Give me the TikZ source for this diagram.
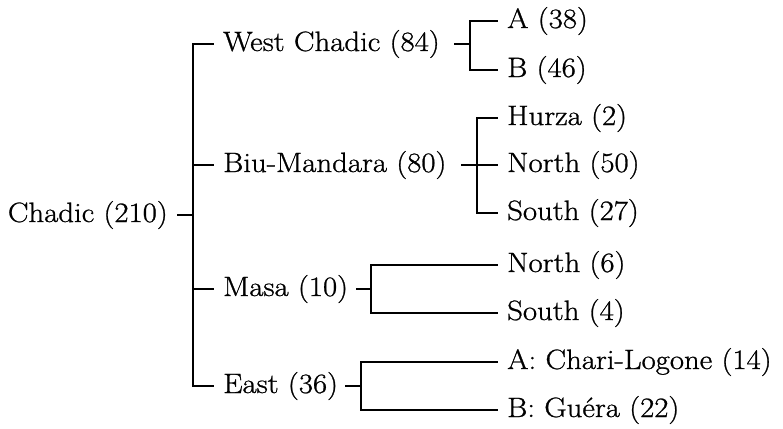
\documentclass[tikz,border=0pt]{standalone}
\usepackage{fontspec}
\setmainfont{Latin Modern Roman}[FakeStretch=1.1, FakeBold=0.9]
\begin{document}
\begin{tikzpicture}[x=1pt,y=-1pt,
  lbl/.style={inner ysep=0pt, inner xsep=10pt, text height=20pt, text depth=6pt,
    font=\fontsize{28}{32}\selectfont},
  ln/.style={line width=2pt, line cap=rect}]
\useasboundingbox (0,0) rectangle (783,428);
% root
\node[lbl, anchor=east] (root) at (178,215) {Chadic (210)};
\coordinate (rv) at (193,215);
% level 1
\node[lbl, anchor=west] (wc) at (213,44) {West Chadic (84)};
\node[lbl, anchor=west] (bm) at (213,165) {Biu-Mandara (80)};
\node[lbl, anchor=west] (ma) at (213,289) {Masa (10)};
\node[lbl, anchor=west] (ea) at (213,386) {East (36)};
\draw[ln] (root.east) -- (rv);
\draw[ln] (wc.west) -| (rv) |- (ea.west);
\draw[ln] (rv |- bm.west) -- (bm.west);
\draw[ln] (rv |- ma.west) -- (ma.west);
% West Chadic
\coordinate (wv) at (470,44);
\coordinate (wt) at (455,44);
\node[lbl, anchor=west] (wa) at (497,21) {A (38)};
\node[lbl, anchor=west] (wb) at (497,70) {B (46)};
\draw[ln] (wt) -- (wv);
\draw[ln] (wa.west) -| (wv) |- (wb.west);
% Biu-Mandara
\coordinate (bv) at (477,165);
\coordinate (bt) at (462,165);
\node[lbl, anchor=west] (bh) at (497,118) {Hurza (2)};
\node[lbl, anchor=west] (bn) at (497,165) {North (50)};
\node[lbl, anchor=west] (bs) at (497,213) {South (27)};
\draw[ln] (bt) -- (bn.west);
\draw[ln] (bh.west) -| (bv) |- (bs.west);
% Masa
\coordinate (mv) at (371,289);
\coordinate (mt) at (357,289);
\node[lbl, anchor=west] (mn) at (497,265) {North (6)};
\node[lbl, anchor=west] (ms) at (497,313) {South (4)};
\draw[ln] (mt) -- (mv);
\draw[ln] (mn.west) -| (mv) |- (ms.west);
% East
\coordinate (ev) at (361,386);
\coordinate (et) at (346,386);
\node[lbl, anchor=west] (ca) at (497,362) {A: Chari-Logone (14)};
\node[lbl, anchor=west] (cb) at (497,410) {B: Guéra (22)};
\draw[ln] (et) -- (ev);
\draw[ln] (ca.west) -| (ev) |- (cb.west);
\end{tikzpicture}
\end{document}
